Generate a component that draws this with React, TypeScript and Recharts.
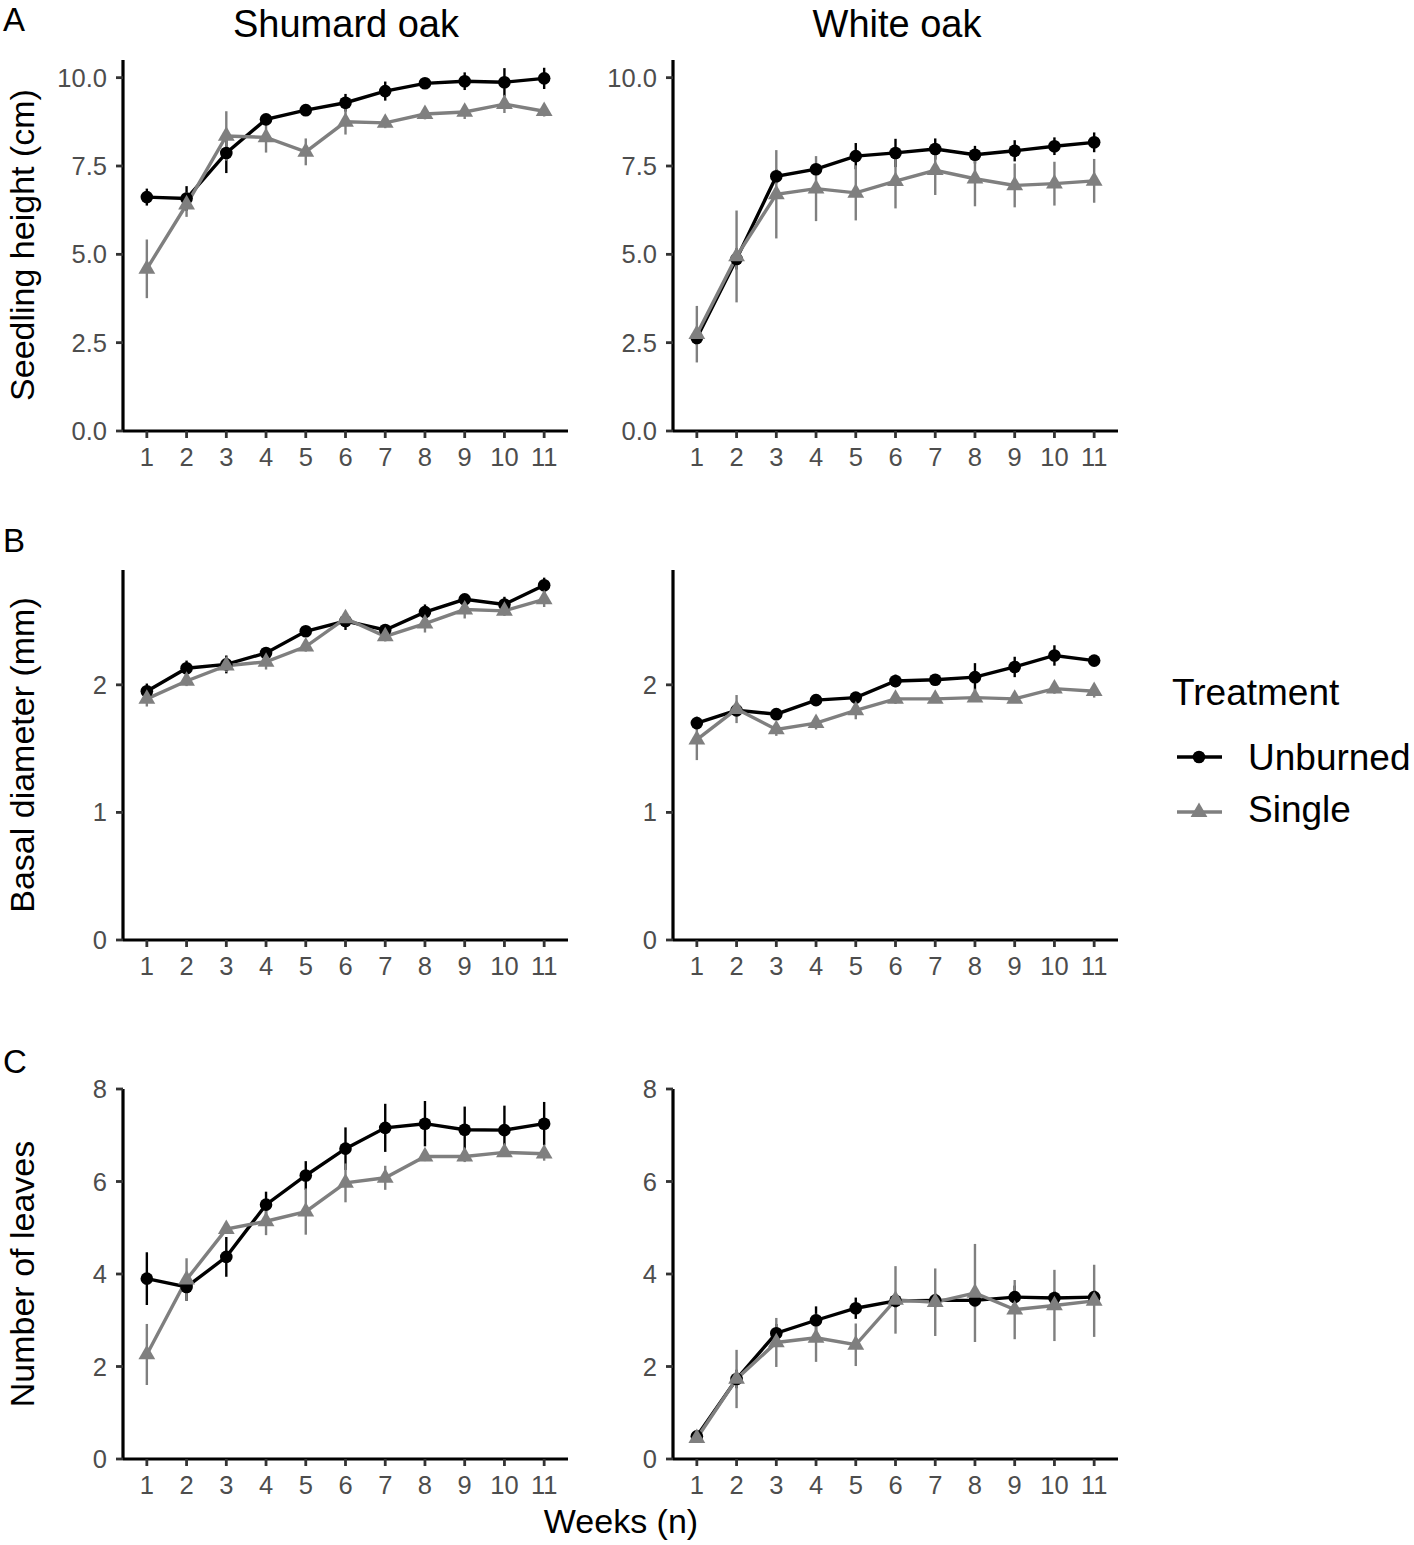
import React from "react";
import { LineChart, Line, XAxis, YAxis, ErrorBar } from "recharts";

const weeks = [1, 2, 3, 4, 5, 6, 7, 8, 9, 10, 11];

// seedling height (cm)
const shumardHeightUnb = [6.62, 6.58, 7.87, 8.82, 9.08, 9.29, 9.62, 9.84, 9.9, 9.87, 9.98];
const shumardHeightUnbSe = [0.24, 0.35, 0.57, 0.15, 0.12, 0.25, 0.27, 0.12, 0.25, 0.4, 0.3];
const shumardHeightSgl = [4.59, 6.41, 8.35, 8.31, 7.9, 8.75, 8.72, 8.97, 9.03, 9.25, 9.05];
const shumardHeightSglSe = [0.83, 0.35, 0.7, 0.43, 0.38, 0.36, 0.15, 0.15, 0.2, 0.25, 0.15];

const whiteHeightUnb = [2.63, 4.87, 7.21, 7.41, 7.78, 7.87, 7.98, 7.82, 7.93, 8.06, 8.17];
const whiteHeightUnbSe = [0.2, 0.3, 0.2, 0.15, 0.37, 0.4, 0.3, 0.25, 0.3, 0.25, 0.28];
const whiteHeightSgl = [2.74, 4.94, 6.7, 6.86, 6.74, 7.07, 7.38, 7.14, 6.95, 7.0, 7.08];
const whiteHeightSglSe = [0.8, 1.3, 1.25, 0.92, 0.78, 0.77, 0.7, 0.78, 0.62, 0.62, 0.62];

// basal diameter (mm)
const shumardDiamUnb = [1.95, 2.13, 2.16, 2.25, 2.42, 2.5, 2.43, 2.57, 2.67, 2.63, 2.78];
const shumardDiamUnbSe = [0.06, 0.06, 0.07, 0.04, 0.04, 0.07, 0.04, 0.06, 0.04, 0.06, 0.06];
const shumardDiamSgl = [1.89, 2.03, 2.15, 2.18, 2.3, 2.52, 2.38, 2.48, 2.59, 2.58, 2.67];
const shumardDiamSglSe = [0.06, 0.04, 0.05, 0.06, 0.04, 0.05, 0.04, 0.07, 0.07, 0.04, 0.06];

const whiteDiamUnb = [1.7, 1.8, 1.77, 1.88, 1.9, 2.03, 2.04, 2.06, 2.14, 2.23, 2.19];
const whiteDiamUnbSe = [0.05, 0.04, 0.03, 0.03, 0.04, 0.05, 0.03, 0.11, 0.08, 0.08, 0.03];
const whiteDiamSgl = [1.57, 1.81, 1.65, 1.7, 1.8, 1.89, 1.89, 1.9, 1.89, 1.97, 1.95];
const whiteDiamSglSe = [0.16, 0.11, 0.05, 0.05, 0.07, 0.04, 0.03, 0.03, 0.03, 0.04, 0.05];

// number of leaves
const shumardLeafUnb = [3.9, 3.72, 4.37, 5.5, 6.13, 6.71, 7.16, 7.25, 7.12, 7.11, 7.25];
const shumardLeafUnbSe = [0.57, 0.3, 0.43, 0.28, 0.31, 0.46, 0.52, 0.49, 0.5, 0.53, 0.47];
const shumardLeafSgl = [2.26, 3.88, 4.97, 5.14, 5.35, 5.97, 6.08, 6.54, 6.54, 6.63, 6.6];
const shumardLeafSglSe = [0.66, 0.46, 0.1, 0.3, 0.5, 0.42, 0.26, 0.1, 0.12, 0.1, 0.15];

const whiteLeafUnb = [0.49, 1.73, 2.72, 3.0, 3.26, 3.42, 3.43, 3.43, 3.5, 3.48, 3.5];
const whiteLeafUnbSe = [0.1, 0.2, 0.2, 0.3, 0.23, 0.15, 0.15, 0.15, 0.25, 0.15, 0.15];
const whiteLeafSgl = [0.45, 1.73, 2.52, 2.62, 2.47, 3.44, 3.39, 3.59, 3.23, 3.32, 3.42];
const whiteLeafSglSe = [0.1, 0.63, 0.53, 0.52, 0.46, 0.73, 0.73, 1.06, 0.64, 0.77, 0.78];

const heightTicks = [0, 2.5, 5, 7.5, 10];
const diamTicks = [0, 1, 2];
const leafTicks = [0, 2, 4, 6, 8];

const BLACK = "#000000";
const GREY = "#7f7f7f";
const FONT = '"Liberation Sans", Arial, Helvetica, sans-serif';

const Y_W = 90;
const X_H = 50;
const M_TOP = 20;
const M_RIGHT = 10;
const PLOT_W = 445;

const Circle = (props: any) => {
  const { cx, cy, index } = props;
  if (cx == null || cy == null) return <g key={index} />;
  return <circle key={index} cx={cx} cy={cy} r={6.3} fill={BLACK} />;
};

const Triangle = (props: any) => {
  const { cx, cy, index } = props;
  if (cx == null || cy == null) return <g key={index} />;
  const s = 8.4;
  const pts = `${cx},${cy - 1.15 * s} ${cx - s},${cy + 0.58 * s} ${cx + s},${cy + 0.58 * s}`;
  return <polygon key={index} points={pts} fill={GREY} />;
};

type PanelProps = {
  left: number;
  top: number;
  height: number;
  unb: number[];
  unbSe: number[];
  sgl: number[];
  sglSe: number[];
  domain: [number, number];
  ticks: number[];
  fmt?: (v: number) => string;
};

function Panel({ left, top, height, unb, unbSe, sgl, sglSe, domain, ticks, fmt }: PanelProps) {
  const data = weeks.map((w, i) => ({
    week: w,
    unb: unb[i],
    unbSe: unbSe[i],
    sgl: sgl[i],
    sglSe: sglSe[i],
  }));
  const axisLine = { stroke: BLACK, strokeWidth: 3.2 };
  const tickLine = { stroke: "#333333", strokeWidth: 2.8 };
  const tick = { fill: "#4d4d4d", fontSize: 25.5, fontFamily: FONT };
  return (
    <div style={{ position: "absolute", left: left - Y_W, top: top - M_TOP }}>
      <LineChart
        width={Y_W + PLOT_W + M_RIGHT}
        height={M_TOP + height + X_H}
        data={data}
        margin={{ top: M_TOP, right: M_RIGHT, bottom: 0, left: 0 }}
      >
        <XAxis
          dataKey="week"
          type="number"
          domain={[0.4, 11.6]}
          ticks={weeks}
          interval={0}
          allowDataOverflow
          height={X_H}
          tickSize={7}
          tickMargin={10}
          axisLine={axisLine}
          tickLine={tickLine}
          tick={tick}
        />
        <YAxis
          type="number"
          domain={domain}
          ticks={ticks}
          interval={0}
          allowDataOverflow
          width={Y_W}
          tickSize={7}
          tickMargin={9}
          axisLine={axisLine}
          tickLine={tickLine}
          tick={tick}
          tickFormatter={fmt}
        />
        <Line
          dataKey="unb"
          stroke={BLACK}
          strokeWidth={3.4}
          dot={Circle}
          activeDot={false}
          isAnimationActive={false}
        >
          <ErrorBar dataKey="unbSe" direction="y" width={0} stroke={BLACK} strokeWidth={2.4} isAnimationActive={false} />
        </Line>
        <Line
          dataKey="sgl"
          stroke={GREY}
          strokeWidth={3.4}
          dot={Triangle}
          activeDot={false}
          isAnimationActive={false}
        >
          <ErrorBar dataKey="sglSe" direction="y" width={0} stroke={GREY} strokeWidth={2.4} isAnimationActive={false} />
        </Line>
      </LineChart>
    </div>
  );
}

const f1 = (v: number) => v.toFixed(1);

const LEFT_X = 123;
const RIGHT_X = 673;
const ROW_A = 60;
const ROW_B = 570;
const ROW_C = 1089;

export default function App() {
  return (
    <div
      style={{
        position: "absolute",
        left: 0,
        top: 0,
        width: 1414,
        height: 1545,
        background: "#fff",
        fontFamily: FONT,
      }}
    >
      <Panel left={LEFT_X} top={ROW_A} height={371} unb={shumardHeightUnb} unbSe={shumardHeightUnbSe} sgl={shumardHeightSgl} sglSe={shumardHeightSglSe} domain={[0, 10.5]} ticks={heightTicks} fmt={f1} />
      <Panel left={RIGHT_X} top={ROW_A} height={371} unb={whiteHeightUnb} unbSe={whiteHeightUnbSe} sgl={whiteHeightSgl} sglSe={whiteHeightSglSe} domain={[0, 10.5]} ticks={heightTicks} fmt={f1} />
      <Panel left={LEFT_X} top={ROW_B} height={370} unb={shumardDiamUnb} unbSe={shumardDiamUnbSe} sgl={shumardDiamSgl} sglSe={shumardDiamSglSe} domain={[0, 2.9]} ticks={diamTicks} />
      <Panel left={RIGHT_X} top={ROW_B} height={370} unb={whiteDiamUnb} unbSe={whiteDiamUnbSe} sgl={whiteDiamSgl} sglSe={whiteDiamSglSe} domain={[0, 2.9]} ticks={diamTicks} />
      <Panel left={LEFT_X} top={ROW_C} height={370} unb={shumardLeafUnb} unbSe={shumardLeafUnbSe} sgl={shumardLeafSgl} sglSe={shumardLeafSglSe} domain={[0, 8]} ticks={leafTicks} />
      <Panel left={RIGHT_X} top={ROW_C} height={370} unb={whiteLeafUnb} unbSe={whiteLeafUnbSe} sgl={whiteLeafSgl} sglSe={whiteLeafSglSe} domain={[0, 8]} ticks={leafTicks} />

      <svg
        width={1414}
        height={1545}
        style={{ position: "absolute", left: 0, top: 0, pointerEvents: "none" }}
        fontFamily={FONT}
      >
        <text x={3} y={31} fontSize={33} fill={BLACK}>A</text>
        <text x={3} y={552} fontSize={33} fill={BLACK}>B</text>
        <text x={3} y={1073} fontSize={33} fill={BLACK}>C</text>

        <text x={346} y={37} fontSize={38} textAnchor="middle" fill={BLACK}>Shumard oak</text>
        <text x={897} y={37} fontSize={38} textAnchor="middle" fill={BLACK}>White oak</text>

        <text transform="translate(34,245) rotate(-90)" fontSize={34} textAnchor="middle" fill={BLACK}>Seedling height (cm)</text>
        <text transform="translate(34,755) rotate(-90)" fontSize={34} textAnchor="middle" fill={BLACK}>Basal diameter (mm)</text>
        <text transform="translate(34,1274) rotate(-90)" fontSize={34} textAnchor="middle" fill={BLACK}>Number of leaves</text>

        <text x={621} y={1533} fontSize={34} textAnchor="middle" fill={BLACK}>Weeks (n)</text>

        <text x={1172} y={705} fontSize={37} fill={BLACK}>Treatment</text>
        <line x1={1177} y1={757} x2={1222} y2={757} stroke={BLACK} strokeWidth={3.4} />
        <circle cx={1199} cy={757} r={6.3} fill={BLACK} />
        <text x={1248} y={770} fontSize={37} fill={BLACK}>Unburned</text>
        <line x1={1177} y1={812} x2={1222} y2={812} stroke={GREY} strokeWidth={3.4} />
        <polygon points="1199,802.5 1190.6,816.9 1207.4,816.9" fill={GREY} />
        <text x={1248} y={822} fontSize={37} fill={BLACK}>Single</text>
      </svg>
    </div>
  );
}
